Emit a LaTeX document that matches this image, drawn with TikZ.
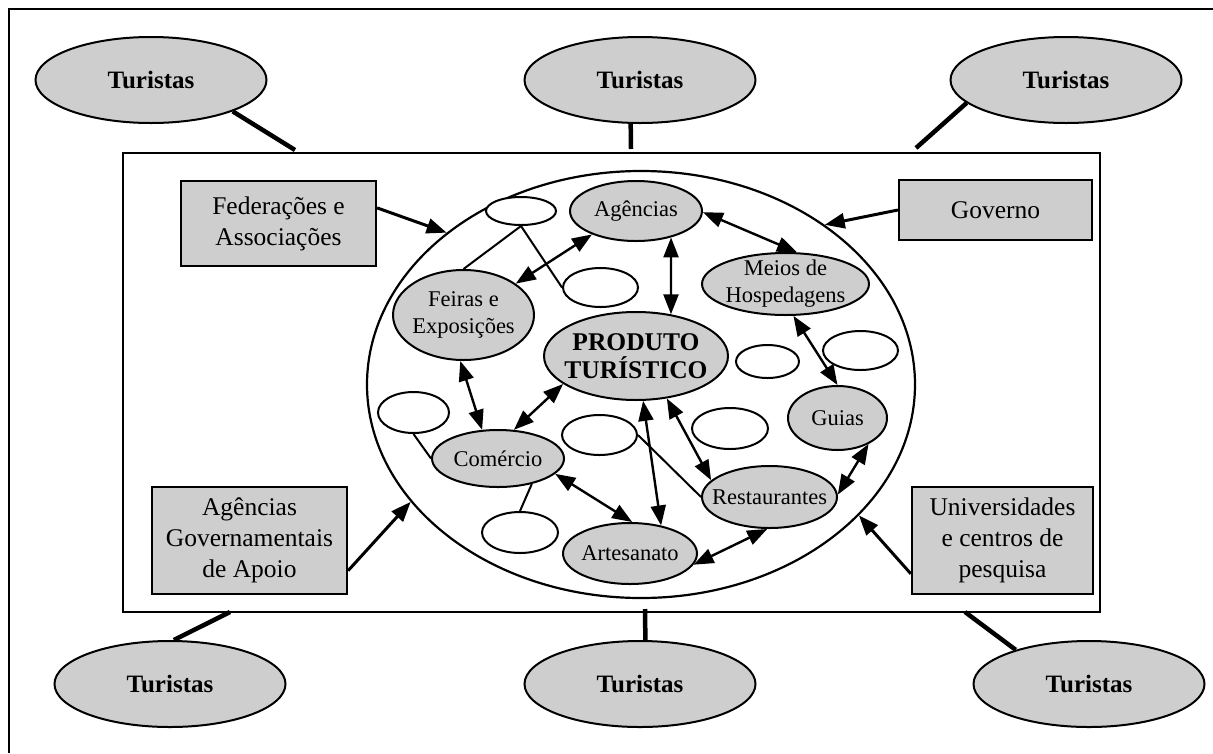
\documentclass[tikz,border=0pt]{standalone}
\usepackage{fontspec}
\setmainfont{Liberation Serif}
\usetikzlibrary{shapes.geometric,arrows.meta}
\definecolor{cellgray}{RGB}{206,206,206}

\tikzset{
  tour/.style={draw=black, line width=2pt, ellipse, fill=cellgray,
    minimum width=231pt, minimum height=86pt, inner sep=0pt,
    font=\fontsize{25}{29}\selectfont\bfseries},
  orgbox/.style={draw=black, line width=2.2pt, fill=cellgray, inner sep=0pt,
    align=center, font=\fontsize{25.5}{31}\selectfont},
  actor/.style={draw=black, line width=2pt, ellipse, fill=cellgray, inner sep=0pt},
  blank/.style={draw=black, line width=2pt, ellipse, fill=white, inner sep=0pt},
  inlbl/.style={align=center, inner sep=0pt, font=\fontsize{22.5}{27}\selectfont},
  corelbl/.style={align=center, inner sep=0pt, font=\fontsize{25.5}{28}\selectfont\bfseries},
  link/.style={line width=2.4pt, <->},
  feed/.style={line width=3pt, ->},
  tie/.style={line width=2pt},
  reach/.style={line width=4.5pt},
}

\begin{document}
\begin{tikzpicture}[x=1pt, y=-1pt, >={Triangle[length=20pt,width=15pt]}]
\useasboundingbox (0,0) rectangle (1213,753);

% outer frame (left and top edges)
\draw[line width=2.5pt] (9,753) -- (9,9) -- (1213,9);

% tourist market panel and the tourism product field
\node[draw=black, line width=2pt, fill=white, minimum width=977pt, minimum height=459pt, inner sep=0pt] (panel) at (611.5,382.5) {};
\node[draw=black, line width=2.2pt, ellipse, fill=white, minimum width=548pt, minimum height=427pt, inner sep=0pt] (market) at (641,384.5) {};

% tourists around the panel
\node[tour] (tl) at (151,80) {Turistas};
\node[tour] (tc) at (640,80) {Turistas};
\node[tour] (tr) at (1066,80) {Turistas};
\node[tour] (bl) at (170,684) {Turistas};
\node[tour] (bc) at (640,684) {Turistas};
\node[tour] (br) at (1089,684) {Turistas};

\coordinate (c1) at (295,150);
\coordinate (c2) at (631,149);
\coordinate (c3) at (916,148);
\coordinate (c4) at (230,612);
\coordinate (c5) at (645,609);
\coordinate (c6) at (965,612);

\draw[reach] (tl.-21) -- (c1);
\draw[reach] (tc.-102) -- (c2);
\draw[reach] (tr.193) -- (c3);
\draw[reach] (bl.85) -- (c4);
\draw[reach] (bc.83) -- (c5);
\draw[reach] (br.155) -- (c6);

% supporting organisations
\node[orgbox, minimum width=195pt, minimum height=85pt] (fed) at (278.5,223.5) {Federações e\\Associações};
\node[orgbox, minimum width=193pt, minimum height=60pt] (gov) at (995.5,210) {Governo};
\node[orgbox, minimum width=195pt, minimum height=107pt] (agg) at (249.5,540.5) {Agências\\Governamentais\\de Apoio};
\node[orgbox, minimum width=181pt, minimum height=107pt] (uni) at (1002.5,540.5) {Universidades\\e centros de\\pesquisa};

\draw[feed] (fed.9) -- (market.142);
\draw[feed] (gov.west) -- (market.41);
\draw[feed] (agg.-17) -- (market.207);
\draw[feed] (uni.200) -- (market.-31);

% empty slots
\node[blank, minimum width=70pt, minimum height=28pt] (w1) at (521,211) {};
\node[blank, minimum width=75pt, minimum height=39pt] (w2) at (600.5,287.5) {};
\node[blank, minimum width=63pt, minimum height=33pt] (w3) at (767.5,361.5) {};
\node[blank, minimum width=75pt, minimum height=39pt] (w4) at (860.5,350.5) {};
\node[blank, minimum width=71pt, minimum height=41pt] (w5) at (413.5,412.5) {};
\node[blank, minimum width=75pt, minimum height=40pt] (w6) at (599.5,435) {};
\node[blank, minimum width=76pt, minimum height=41pt] (w7) at (520,532.5) {};
\node[blank, minimum width=76pt, minimum height=41pt] (w8) at (730,428.5) {};

% actors of the tourism product
\node[actor, minimum width=132pt, minimum height=60pt, label={[inlbl]center:Agências}] (ag) at (636,211) {};
\node[actor, minimum width=167pt, minimum height=62pt, label={[inlbl]center:{Meios de\\Hospedagens}}] (me) at (785.5,284) {};
\node[actor, minimum width=141pt, minimum height=90pt, label={[inlbl]center:{Feiras e\\Exposições}}] (fe) at (463.5,315) {};
\node[actor, minimum width=184pt, minimum height=88pt, label={[corelbl]center:{PRODUTO\\TURÍSTICO}}] (pr) at (636,356) {};
\node[actor, minimum width=132pt, minimum height=57pt, label={[inlbl]center:Comércio}] (co) at (498,458.5) {};
\node[actor, minimum width=134pt, minimum height=61pt, label={[inlbl]center:Artesanato}] (ar) at (630,553.5) {};
\node[actor, minimum width=135pt, minimum height=62pt, label={[inlbl]center:Restaurantes}] (re) at (769.5,497) {};
\node[actor, minimum width=99pt, minimum height=64pt, label={[inlbl]center:Guias}] (gu) at (837.5,418) {};

% plain ties
\draw[tie] (w1.south) -- (fe.north);
\draw[tie] (w1.south) -- (w2.west);
\draw[tie] (w5.south) -- (co.west);
\draw[tie] (co.-37) -- (w7.north);
\draw[tie] (w6.east) -- (re.west);

% two-way relations
\draw[link] (fe.31) -- (ag.208);
\draw[link] (ag.-37) -- (pr.50);
\draw[link] (ag.-1) -- (me.70);
\draw[link] (me.-76) -- (gu.90);
\draw[link] (fe.-94) -- (co.119);
\draw[link] (co.61) -- (pr.201);
\draw[link] (co.-15) -- (ar.86);
\draw[link] (pr.-81) -- (ar.42);
\draw[link] (pr.-54) -- (re.164);
\draw[link] (re.2) -- (gu.-40);
\draw[link] (ar.-10) -- (re.-94);
\end{tikzpicture}
\end{document}
